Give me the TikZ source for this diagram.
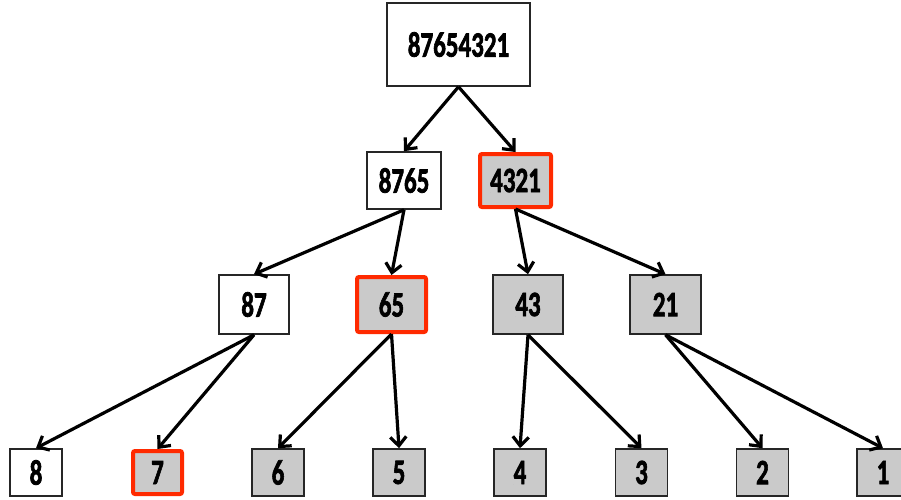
\documentclass[tikz,border=0pt]{standalone}
\usepackage{fontspec}
\setmainfont{Carlito}[BoldFeatures={FakeBold=2.2}]
\usetikzlibrary{arrows.meta}
\definecolor{boxgray}{HTML}{CACACA}
\definecolor{hired}{HTML}{FF2A00}
\newcommand{\lbl}[1]{\scalebox{1}[1.42]{\bfseries #1}}
\tikzset{
  box/.style={draw=black!85, line width=1.6pt, fill=white, inner sep=0pt,
    font=\fontsize{25}{25}\selectfont},
  grayfill/.style={fill=boxgray},
  hl/.style={draw=hired, line width=4pt, rounded corners=2pt},
  conn/.style={line width=3.2pt, -{Straight Barb[length=9pt,width=16pt,line width=3.2pt]}},
}
\begin{document}
\begin{tikzpicture}[x=1pt,y=-1pt]
\useasboundingbox (0,0) rectangle (901,499);
% level 0
\node[box, minimum width=143pt, minimum height=83pt] (r) at (458.5,44.5) {\lbl{87654321}};
% level 1
\node[box, minimum width=74pt, minimum height=57pt] (a) at (404,180.5) {\lbl{8765}};
\node[box, grayfill, hl, minimum width=71pt, minimum height=53pt] (b) at (515.5,180.5) {\lbl{4321}};
% level 2
\node[box, minimum width=70pt, minimum height=59pt] (aa) at (254,304.5) {\lbl{87}};
\node[box, grayfill, hl, minimum width=69pt, minimum height=55pt] (ab) at (391.5,304.5) {\lbl{65}};
\node[box, grayfill, minimum width=70pt, minimum height=59pt] (ba) at (528,304.5) {\lbl{43}};
\node[box, grayfill, minimum width=71pt, minimum height=59pt] (bb) at (665.5,304.5) {\lbl{21}};
% level 3
\node[box, minimum width=52pt, minimum height=47pt] (l8) at (36,472.5) {\lbl{8}};
\node[box, grayfill, hl, minimum width=49pt, minimum height=43pt] (l7) at (157.5,472.5) {\lbl{7}};
\node[box, grayfill, minimum width=52pt, minimum height=47pt] (l6) at (278,472.5) {\lbl{6}};
\node[box, grayfill, minimum width=52pt, minimum height=47pt] (l5) at (399,472.5) {\lbl{5}};
\node[box, grayfill, minimum width=52pt, minimum height=47pt] (l4) at (520,472.5) {\lbl{4}};
\node[box, grayfill, minimum width=52pt, minimum height=47pt] (l3) at (641.5,472.5) {\lbl{3}};
\node[box, grayfill, minimum width=52pt, minimum height=47pt] (l2) at (762.5,472.5) {\lbl{2}};
\node[box, grayfill, minimum width=52pt, minimum height=47pt] (l1) at (883,472.5) {\lbl{1}};
% connectors
\draw[conn] (r.south) -- (a.north);
\draw[conn] (r.south) -- (b.north);
\draw[conn] (a.south) -- (aa.north);
\draw[conn] (a.south) -- (ab.north);
\draw[conn] (b.south) -- (ba.north);
\draw[conn] (b.south) -- (bb.north);
\draw[conn] (aa.south) -- (l8.north);
\draw[conn] (aa.south) -- (l7.north);
\draw[conn] (ab.south) -- (l6.north);
\draw[conn] (ab.south) -- (l5.north);
\draw[conn] (ba.south) -- (l4.north);
\draw[conn] (ba.south) -- (l3.north);
\draw[conn] (bb.south) -- (l2.north);
\draw[conn] (bb.south) -- (l1.north);
\end{tikzpicture}
\end{document}
